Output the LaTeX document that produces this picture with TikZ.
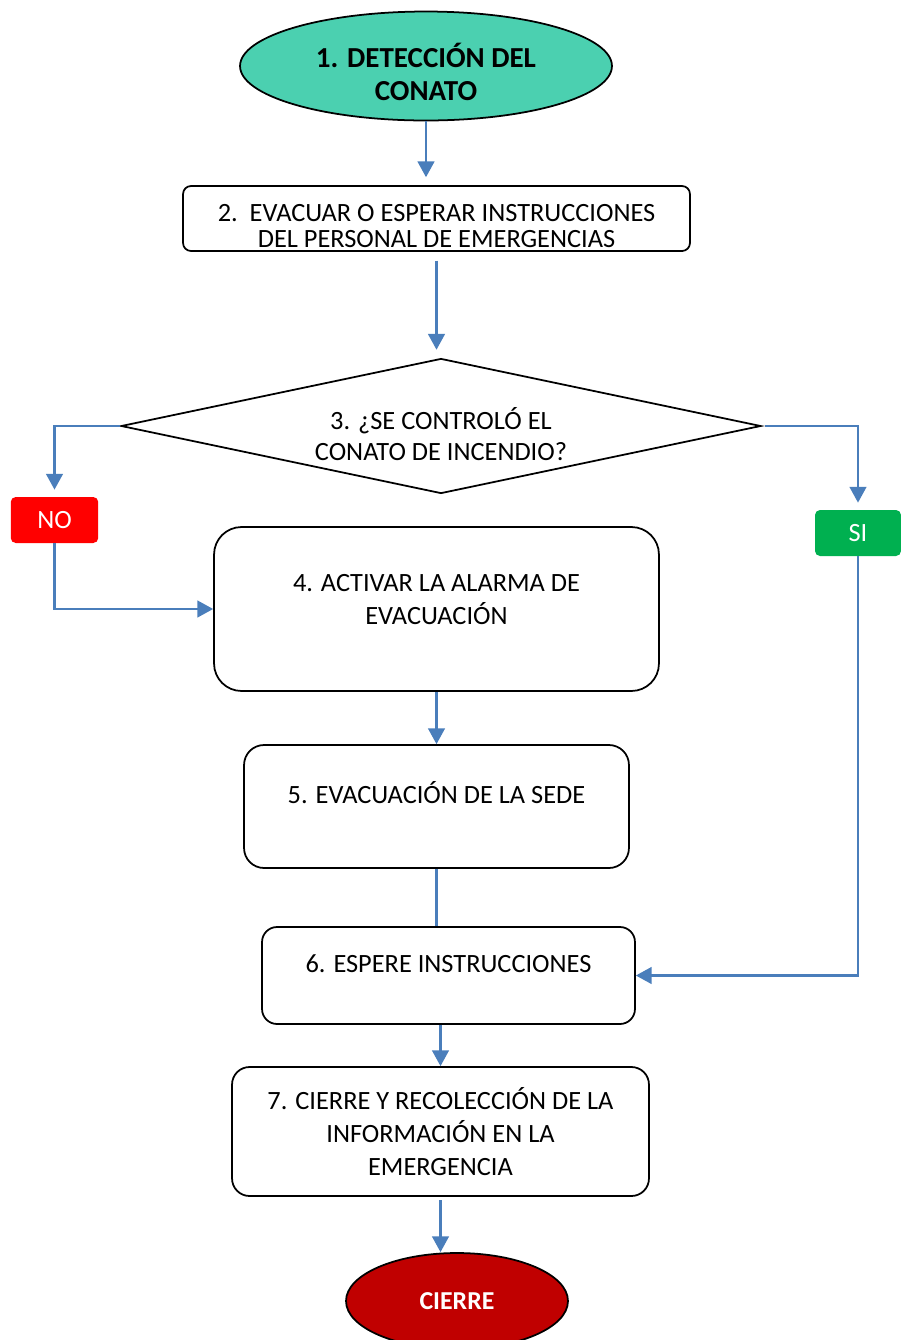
\documentclass[tikz,border=0pt]{standalone}
\usepackage{fontspec}
\setmainfont{Carlito}
\usepackage{tikz}
\usetikzlibrary{shapes.geometric, arrows.meta, positioning, calc}
\definecolor{detectteal}{RGB}{75, 208, 176}
\definecolor{noired}{RGB}{255, 0, 0}
\definecolor{sigreen}{RGB}{0, 176, 80}
\definecolor{cierrered}{RGB}{192, 0, 0}
\definecolor{flowblue}{RGB}{74, 126, 187}
\tikzset{
    stepbox/.style={draw=black, line width=1pt, fill=white, align=center,
        inner sep=2pt, font=\fontsize{15}{18.7}\selectfont},
    raisedtext/.style={text height=11pt, text depth=14.4pt},
    flowline/.style={draw=flowblue, line width=1.3pt,
        -{Triangle[length=9pt, width=9.5pt]}},
    plainline/.style={draw=flowblue, line width=1.3pt},
    answerbox/.style={rounded corners=0.1cm, text=white, inner sep=0pt,
        minimum width=1.75cm, minimum height=0.92cm, font=\fontsize{15}{18}\selectfont}
}
\begin{document}
\begin{tikzpicture}[x=0.02cm, y=-0.02cm]
    \useasboundingbox (0,0) rectangle (901,1340);
    % main steps
    \node[ellipse, draw=black, line width=1pt, fill=detectteal, align=center,
          minimum width=7.44cm, minimum height=2.18cm, inner sep=0pt, text height=39.3pt,
          font=\fontsize{16.5}{18.5}\selectfont\bfseries] (detect) at (426,66)
          {1. DETECCIÓN DEL\\CONATO};
    \node[stepbox, rounded corners=0.16cm, minimum width=10.14cm, minimum height=1.3cm,
          text height=32.9pt, font=\fontsize{15}{14.5}\selectfont] (evacuar) at (436.5,218.5)
          {2.\ \ EVACUAR O ESPERAR INSTRUCCIONES\\DEL PERSONAL DE EMERGENCIAS};
    \node[diamond, aspect=4.74, draw=black, line width=1pt, fill=white, align=center, inner sep=0pt,
          minimum width=12.8cm, minimum height=2.7cm, text height=39.4pt,
          font=\fontsize{15}{17.6}\selectfont] (decide) at (441,426)
          {3. ¿SE CONTROLÓ EL\\CONATO DE INCENDIO?};
    \node[answerbox, fill=noired] (no) at (54.5,520) {NO};
    \node[answerbox, fill=sigreen, minimum width=1.72cm] (si) at (858,533) {SI};
    \node[stepbox, rounded corners=0.55cm, minimum width=8.9cm, minimum height=3.28cm,
          text depth=10.8pt] (activar)
          at (436.5,609) {4. ACTIVAR LA ALARMA DE\\EVACUACIÓN};
    \node[stepbox, raisedtext, rounded corners=0.4cm, minimum width=7.7cm, minimum height=2.46cm] (sede)
          at (436.5,806.5) {5. EVACUACIÓN DE LA SEDE};
    \node[stepbox, raisedtext, rounded corners=0.3cm, minimum width=7.46cm, minimum height=1.94cm] (espere)
          at (448.5,975.5) {6. ESPERE INSTRUCCIONES};
    \node[stepbox, rounded corners=0.35cm, minimum width=8.34cm, minimum height=2.58cm] (recoleccion)
          at (440.5,1131.5) {7. CIERRE Y RECOLECCIÓN DE LA\\INFORMACIÓN EN LA\\EMERGENCIA};
    \node[ellipse, draw=black, line width=1pt, fill=cierrered, text=white, inner sep=0pt,
          minimum width=4.44cm, minimum height=1.92cm,
          font=\fontsize{14.7}{17}\selectfont\bfseries] (fin) at (457,1301) {CIERRE};
    % connectors
    \draw[flowline, shorten >=4.5pt] (detect.south) -- (detect.south |- evacuar.north);
    \draw[flowline, shorten <=5pt, shorten >=4.5pt] (evacuar.south) -- (evacuar.south |- decide.north);
    \draw[flowline, shorten >=4pt] (decide.west) -| (no.north);
    \draw[flowline, shorten <=2pt, shorten >=4pt] (decide.east) -| (si.north);
    \draw[flowline] (no.south) |- (activar.west);
    \draw[flowline] (activar.south) -- (sede.north);
    \draw[plainline] (sede.south) -- (sede.south |- espere.north);
    \draw[flowline] (si.south) |- (espere.east);
    \draw[flowline] (recoleccion.north |- espere.south) -- (recoleccion.north);
    \draw[flowline, shorten <=2pt] (recoleccion.south) -- (recoleccion.south |- fin.north);
\end{tikzpicture}
\end{document}
